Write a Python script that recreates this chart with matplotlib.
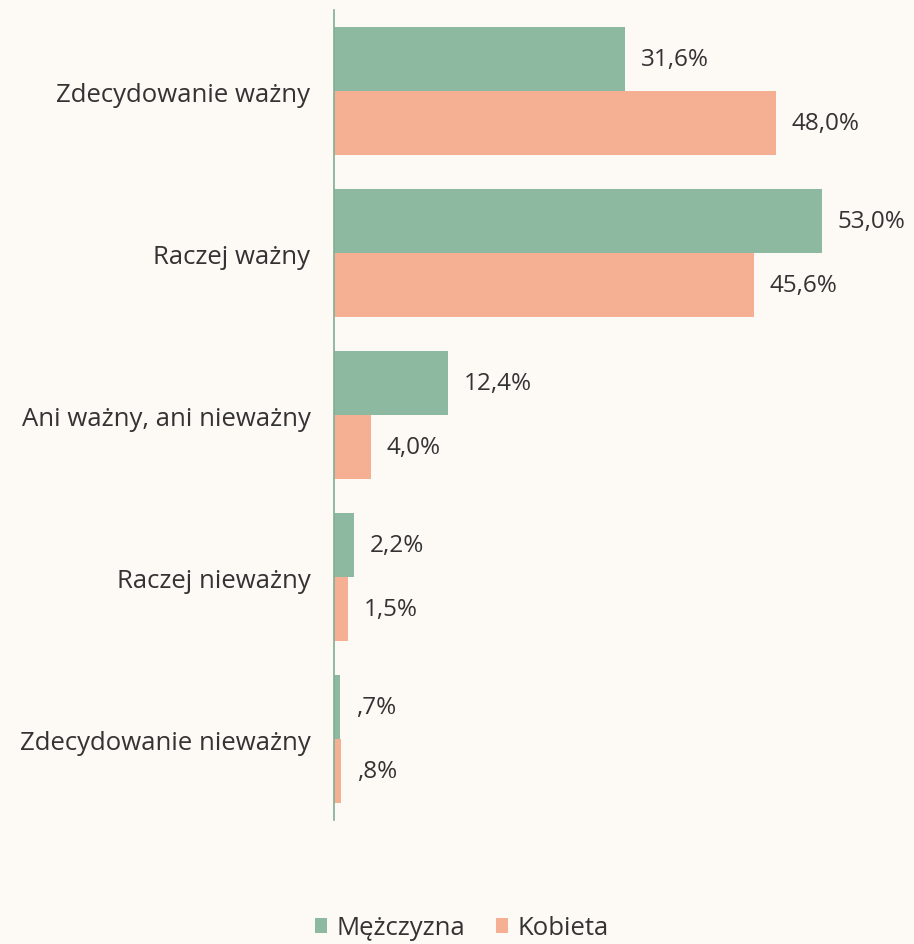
import matplotlib.pyplot as plt
import numpy as np

kategorie = [
    "Zdecydowanie ważny",
    "Raczej ważny",
    "Ani ważny, ani nieważny",
    "Raczej nieważny",
    "Zdecydowanie nieważny",
]
mezczyzna = [31.6, 53.0, 12.4, 2.2, 0.7]
kobieta = [48.0, 45.6, 4.0, 1.5, 0.8]
serie = ["Mężczyzna", "Kobieta"]

tlo = "#fdf9f5"
zielony = "#8db9a1"
pomaranczowy = "#f5b094"
tekst = "#333333"

plt.rcParams["font.family"] = ["Open Sans", "DejaVu Sans"]


def etykieta(v):
    s = f"{v:.1f}".replace(".", ",")
    if s.startswith("0"):
        s = s[1:]
    return s + "%"


fig = plt.figure(figsize=(9.14, 9.45), dpi=100, facecolor=tlo)
ax = fig.add_axes([334 / 914, 1 - 821 / 945, 1 - 334 / 914, 810 / 945])
ax.set_facecolor(tlo)

y = np.arange(len(kategorie))
h = 0.395
b1 = ax.barh(y - h / 2, mezczyzna, height=h, color=zielony, label=serie[0])
b2 = ax.barh(y + h / 2, kobieta, height=h, color=pomaranczowy, label=serie[1])

for bars, vals in ((b1, mezczyzna), (b2, kobieta)):
    for bar, v in zip(bars, vals):
        ax.annotate(
            etykieta(v),
            (v, bar.get_y() + bar.get_height() / 2),
            xytext=(11.5, 0),
            textcoords="offset points",
            va="center",
            ha="left",
            fontsize=17.5,
            color=tekst,
        )

ax.set_xlim(0, 63)
ax.set_ylim(4.5, -0.5)
ax.set_yticks(y)
ax.set_yticklabels(kategorie, fontsize=18.5, color=tekst)
ax.tick_params(axis="y", length=0, pad=17)
ax.set_xticks([])
for s in ("top", "right", "bottom"):
    ax.spines[s].set_visible(False)
ax.spines["left"].set_color("#7fae94")
ax.spines["left"].set_linewidth(1.2)

fig.legend(
    handles=[b1, b2],
    labels=serie,
    loc="center",
    bbox_to_anchor=(0.505, 1 - 929 / 945),
    ncol=2,
    frameon=False,
    fontsize=18.5,
    handlelength=0.48,
    handleheight=0.48,
    handletextpad=0.35,
    columnspacing=1.2,
    labelcolor=tekst,
)

plt.savefig("out.png", dpi=100, facecolor=tlo)
